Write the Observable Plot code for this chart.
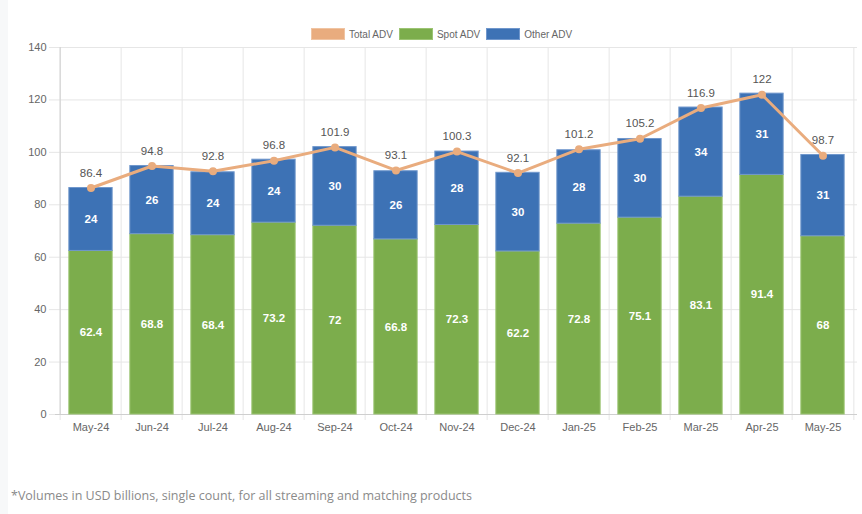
<!DOCTYPE html>
<html><head><meta charset="utf-8">
<script src="https://cdn.jsdelivr.net/npm/d3@7"></script>
<script src="https://cdn.jsdelivr.net/npm/@observablehq/plot@0.6"></script>
<style>
body{margin:0;background:#fff;width:862px;height:514px;overflow:hidden;position:relative;font-family:"Liberation Sans",Arial,sans-serif}
#strip{position:absolute;left:0;top:0;width:8px;height:514px;background:#f7f8f9}
#legend{position:absolute;top:28px;left:311px;display:flex;gap:6px;font-size:10px;color:#666}
#legend span{display:flex;align-items:center;gap:4px;height:12px}
#legend i{display:inline-block;width:32px;height:10px;border:1px solid}
#chart{position:absolute;top:40px;left:0}
#note{position:absolute;top:487px;left:11px;font-family:"Open Sans",sans-serif;font-size:12.5px;color:#8a8a8a}
</style></head>
<body>
<div id="strip"></div>
<div id="legend"></div>
<div id="chart"></div>
<div id="note">*Volumes in USD billions, single count, for all streaming and matching products</div>
<script>
const months = ["May-24","Jun-24","Jul-24","Aug-24","Sep-24","Oct-24","Nov-24","Dec-24","Jan-25","Feb-25","Mar-25","Apr-25","May-25"];
const spotADV = [62.4,68.8,68.4,73.2,72,66.8,72.3,62.2,72.8,75.1,83.1,91.4,68];
const otherADV = [24,26,24,24,30,26,28,30,28,30,34,31,31];
const totalADV = [86.4,94.8,92.8,96.8,101.9,93.1,100.3,92.1,101.2,105.2,116.9,122,98.7];
const yTicks = [0,20,40,60,80,100,120,140];
const seriesNames = ["Total ADV","Spot ADV","Other ADV"];
const colors = {"Total ADV":"#e9ac7e","Spot ADV":"#7cad4c","Other ADV":"#3d72b5"};
const borders = {"Total ADV":"#f0c4a2","Spot ADV":"#9cc473","Other ADV":"#7097cc"};

const leg = document.getElementById("legend");
seriesNames.forEach(n=>{
  const s=document.createElement("span");
  s.innerHTML=`<i style="background:${colors[n]};border-color:${borders[n]}"></i>${n}`;
  leg.appendChild(s);
});

const stacked = [];
months.forEach((m,i)=>{
  stacked.push({month:m, series:"Spot ADV", value:spotADV[i]});
  stacked.push({month:m, series:"Other ADV", value:otherADV[i]});
});
const totals = months.map((m,i)=>({month:m, total:totalADV[i]}));

const W=862, H=400, mL=55, mR=5, mT=7, mB=26;
const bw=(W-mL-mR)/months.length;
const inset=(bw-44)/2;

const chart = Plot.plot({
  width:W, height:H, marginLeft:mL, marginRight:mR, marginTop:mT, marginBottom:mB,
  style:{fontFamily:"'Liberation Sans',Arial,sans-serif", fontSize:"11px", color:"#666", background:"transparent"},
  x:{domain:months, padding:0, label:null, tickSize:0, tickPadding:9},
  y:{domain:[0,140], ticks:yTicks, label:null, tickSize:0, tickPadding:9},
  color:{domain:["Spot ADV","Other ADV"], range:[colors["Spot ADV"],colors["Other ADV"]]},
  marks:[
    Plot.ruleY(yTicks,{stroke:"#e6e6e6", strokeWidth:1, insetLeft:-6}),
    Plot.ruleX(months,{x:d=>d, dx:-bw/2, stroke:"#e6e6e6", insetBottom:-6}),
    Plot.ruleX([months[months.length-1]],{x:d=>d, dx:bw/2, stroke:"#e6e6e6", insetBottom:-6}),
    Plot.ruleX([months[0]],{x:d=>d, dx:-bw/2, stroke:"#cfcfcf"}),
    Plot.ruleY([0],{stroke:"#cfcfcf"}),
    Plot.barY(stacked, Plot.stackY({x:"month", y:"value", z:"series", fill:"series", order:["Spot ADV","Other ADV"],
      stroke:d=>borders[d.series], strokeWidth:1, insetLeft:inset, insetRight:inset})),
    Plot.text(stacked, Plot.stackY({x:"month", y:"value", z:"series", order:["Spot ADV","Other ADV"], text:d=>String(d.value),
      fill:"#fff", fontWeight:"bold", fontSize:11.5})),
    Plot.line(totals,{x:"month", y:"total", stroke:colors["Total ADV"], strokeWidth:3}),
    Plot.dot(totals,{x:"month", y:"total", fill:colors["Total ADV"], r:4}),
    Plot.text(totals,{x:"month", y:"total", text:d=>String(d.total), dy:-15, fill:"#555", fontSize:11.5})
  ]
});
document.getElementById("chart").appendChild(chart);
</script>
</body></html>
